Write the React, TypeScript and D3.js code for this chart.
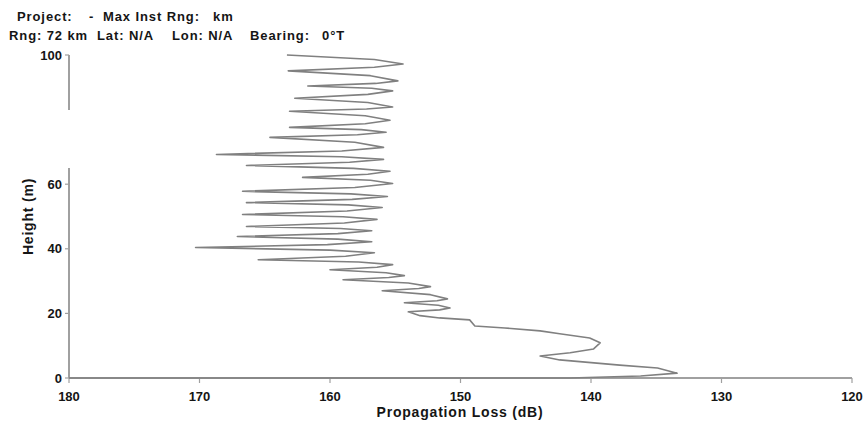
import React from "react";
import * as d3 from "d3";

// Propagation loss (dB) vs height (m), ordered by increasing height
const heights = [
  0, 0, 0.6, 1.5, 3.1, 4.0, 5.6, 6.8, 7.8, 9.0, 10.9, 12.4, 13.7, 14.6, 15.5, 16.1, 18.0, 18.6, 19.3,
  20.5, 21.1, 21.7, 22.5, 23.3, 23.9, 24.5, 25.8, 27.0, 27.7, 28.3, 29.4, 30.4, 31.1, 31.7, 32.6,
  33.5, 34.3, 35.1, 35.9, 36.6, 37.7, 38.8, 39.6, 40.4, 41.3, 42.2, 43.0, 43.8, 44.7, 45.6, 46.3,
  46.9, 48.0, 49.1, 49.9, 50.6, 51.7, 52.8, 53.6, 54.3, 55.3, 56.2, 57.0, 57.8, 59.0, 60.2, 61.2,
  62.1, 63.1, 64.0, 64.9, 65.8, 66.8, 67.7, 68.5, 69.2, 70.3, 71.4, 73.0, 74.5, 75.3, 76.1, 76.9,
  77.6, 78.7, 79.8, 81.2, 82.6, 83.3, 83.9, 85.3, 86.6, 87.8, 88.9, 89.7, 90.4, 91.2, 92.0, 93.6,
  95.1, 96.2, 97.2, 98.6, 100,
];
const losses = [
  180, 141.6, 136.2, 133.4, 134.9, 137.8, 142.4, 143.9, 141.6, 139.8, 139.3, 140.1, 142.4, 143.9,
  146.6, 148.9, 149.3, 151.6, 153.1,
  154.0, 151.6, 150.8, 151.7, 154.3, 151.8, 151.0, 152.3, 156.0, 153.2, 152.3, 154.0, 159.0, 155.5,
  154.3, 155.7, 160.0, 156.4, 155.2, 157.8, 165.5, 158.8, 156.6, 160.0, 170.3, 160.2, 156.8, 159.4,
  167.1, 159.4, 156.8, 159.2, 166.4, 158.9, 156.4, 159.0, 166.7, 158.7, 156.0, 158.6, 166.4, 158.3,
  155.6, 158.4, 166.7, 158.1, 155.2, 156.9, 162.1, 157.1, 155.4, 158.2, 166.4, 158.5, 155.9, 159.1,
  168.7, 159.1, 155.9, 158.1, 164.6, 157.9, 155.7, 157.6, 163.1, 157.3, 155.4, 157.3, 163.1, 157.2,
  155.2, 157.1, 162.7, 157.1, 155.2, 156.8, 161.7, 156.5, 154.8, 156.9, 163.2, 156.6, 154.4, 156.6,
  163.3,
];

const xTicks = [180, 170, 160, 150, 140, 130, 120];
const yTicks = [0, 20, 40, 60, 100];

const headerLine1 = [
  { t: "Project:", x: 17 },
  { t: "-", x: 89 },
  { t: "Max Inst Rng:", x: 103 },
  { t: "km", x: 213 },
];
const headerLine2 = [
  { t: "Rng: 72 km", x: 9 },
  { t: "Lat: N/A", x: 97 },
  { t: "Lon: N/A", x: 172 },
  { t: "Bearing:", x: 250 },
  { t: "0°T", x: 322 },
];

export default function App() {
  const x = d3.scaleLinear().domain([180, 120]).range([69, 852]);
  const y = d3.scaleLinear().domain([0, 100]).range([378, 55]);
  const pts: [number, number][] = heights.map((h, i) => [losses[i], h]);
  const line = d3
    .line<[number, number]>()
    .x((d) => x(d[0]))
    .y((d) => y(d[1]));

  const font = "'Liberation Sans', Arial, sans-serif";
  const axisColor = "#a0a0a0";
  const txt = "#151515";

  return (
    <div style={{ position: "absolute", left: 0, top: 0 }}>
      <svg width={864} height={425} style={{ display: "block" }} fontFamily={font}>
        <rect width={864} height={425} fill="#fff" />
        {headerLine1.map((d, i) => (
          <text key={"h1" + i} x={d.x} y={21} fontSize={13} letterSpacing={0.9} fontWeight="bold" fill={txt}>
            {d.t}
          </text>
        ))}
        {headerLine2.map((d, i) => (
          <text key={"h2" + i} x={d.x} y={40} fontSize={13} letterSpacing={0.9} fontWeight="bold" fill={txt}>
            {d.t}
          </text>
        ))}

        {/* y axis with gap */}
        <line x1={x(180)} x2={x(180)} y1={y(100)} y2={y(83)} stroke={axisColor} strokeWidth={2} />
        <line x1={x(180)} x2={x(180)} y1={y(65)} y2={y(0)} stroke={axisColor} strokeWidth={2} />
        {yTicks.map((t) => (
          <g key={"yt" + t}>
            <line x1={x(180) - 4} x2={x(180)} y1={y(t)} y2={y(t)} stroke={axisColor} strokeWidth={1.2} />
            <text
              x={x(180) - 7}
              y={y(t)}
              dy="0.36em"
              textAnchor="end"
              fontSize={13}
              fontWeight="bold"
              fill={txt}
            >
              {t}
            </text>
          </g>
        ))}

        {/* x axis */}
        <line x1={x(180)} x2={x(120)} y1={y(0)} y2={y(0)} stroke={axisColor} strokeWidth={2} />
        {xTicks.map((t) => (
          <g key={"xt" + t}>
            <line x1={x(t)} x2={x(t)} y1={y(0)} y2={y(0) + 5} stroke={axisColor} strokeWidth={1.2} />
            <text x={x(t)} y={401} textAnchor="middle" fontSize={13} fontWeight="bold" fill={txt}>
              {t}
            </text>
          </g>
        ))}

        <path d={line(pts) || ""} fill="none" stroke="#808080" strokeWidth={1.6} strokeLinejoin="round" />

        <text
          x={460}
          y={417}
          textAnchor="middle"
          fontSize={14}
          letterSpacing={0.8}
          fontWeight="bold"
          fill={txt}
        >
          Propagation Loss (dB)
        </text>
        <text
          transform={`translate(33,${y(50)}) rotate(-90)`}
          textAnchor="middle"
          fontSize={14}
          letterSpacing={0.8}
          fontWeight="bold"
          fill={txt}
        >
          Height (m)
        </text>
      </svg>
    </div>
  );
}
